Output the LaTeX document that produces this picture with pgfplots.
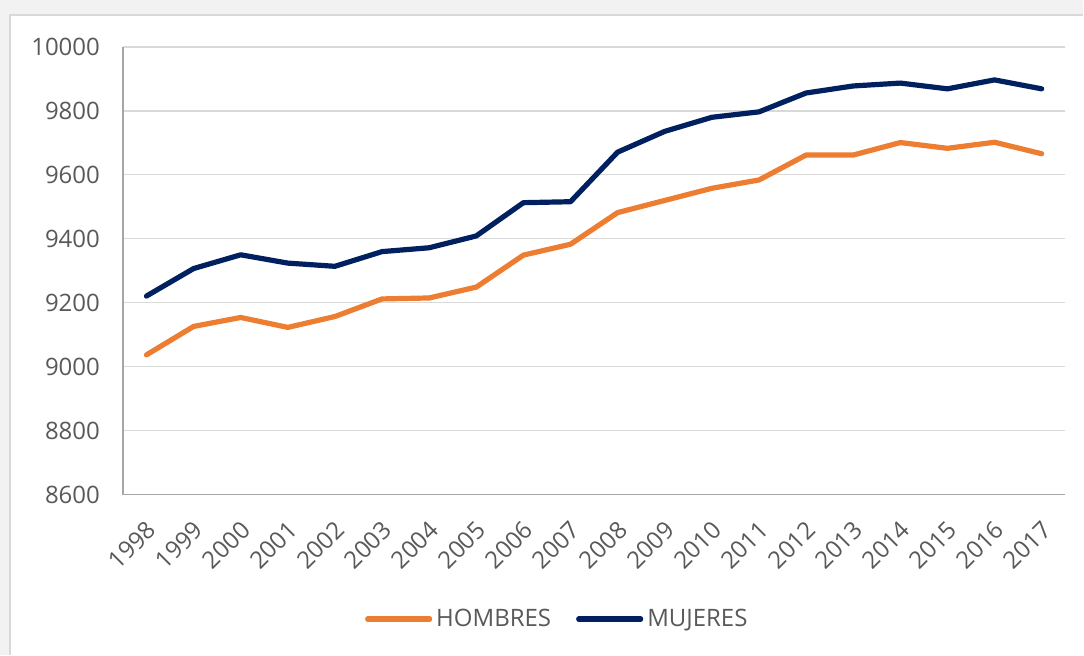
\documentclass[border=0pt]{standalone}
\usepackage{fontspec}
\setmainfont{Open Sans}
\usepackage{pgfplots}
\pgfplotsset{compat=1.18}

\definecolor{hombres}{HTML}{ED7D31}
\definecolor{mujeres}{HTML}{002060}
\definecolor{ticktext}{HTML}{595959}
\definecolor{gridgray}{HTML}{D9D9D9}
\definecolor{axisgray}{HTML}{A6A6A6}
\definecolor{bandgray}{HTML}{F2F2F2}

\begin{document}
\begin{tikzpicture}[x=1pt,y=1pt]
% frame of the chart area (1px = 0.5pt)
\fill[bandgray] (0,0) rectangle (542,327.5);
\fill[white] (5,0) rectangle (542,320);
\draw[gridgray, line width=0.8pt] (5,0) -- (5,320) -- (542,320);

\begin{axis}[
    at={(61.5pt,80pt)}, anchor=south west,
    scale only axis,
    width=471.5pt, height=224pt,
    xmin=-0.5, xmax=19.5,
    ymin=8600, ymax=10000,
    xtick={0,...,19},
    xticklabels={1998,1999,2000,2001,2002,2003,2004,2005,2006,2007,2008,2009,2010,2011,2012,2013,2014,2015,2016,2017},
    ytick={8600,8800,...,10000},
    scaled y ticks=false,
    yticklabel={\pgfmathprintnumber[fixed, precision=0, 1000 sep={}]{\tick}},
    axis x line*=bottom, axis y line*=left,
    axis line style={axisgray, line width=0.6pt, -},
    major tick length=0pt,
    ymajorgrids, grid style={gridgray, line width=0.6pt},
    tick label style={font=\fontsize{12}{14}\selectfont, text=ticktext},
    /pgf/number format/assume math mode=true,
    yticklabel style={anchor=east, xshift=-8pt},
    xticklabel style={anchor=east, xshift=5pt, yshift=-13pt, rotate=45},
    legend columns=2,
    legend style={at={(0.462,-0.278)}, anchor=center, draw=none, fill=none,
        font=\fontsize{12}{14}\selectfont, text=ticktext,
        /tikz/every even column/.append style={column sep=10.5pt}},
    legend image code/.code={\draw[#1] (0pt,0pt) -- (31pt,0pt);},
    every axis plot/.append style={line width=2.6pt, line join=round, line cap=round},
]
\addplot[hombres] coordinates {
(0,9037) (1,9126) (2,9154) (3,9123) (4,9157) (5,9212) (6,9215) (7,9249)
(8,9349) (9,9383) (10,9482) (11,9520) (12,9558) (13,9584) (14,9662)
(15,9662) (16,9701) (17,9683) (18,9702) (19,9666)};
\addlegendentry{HOMBRES}
\addplot[mujeres] coordinates {
(0,9221) (1,9307) (2,9350) (3,9324) (4,9314) (5,9360) (6,9372) (7,9409)
(8,9513) (9,9516) (10,9671) (11,9736) (12,9780) (13,9797) (14,9856)
(15,9878) (16,9887) (17,9869) (18,9897) (19,9869)};
\addlegendentry{MUJERES}
\end{axis}
\end{tikzpicture}
\end{document}
